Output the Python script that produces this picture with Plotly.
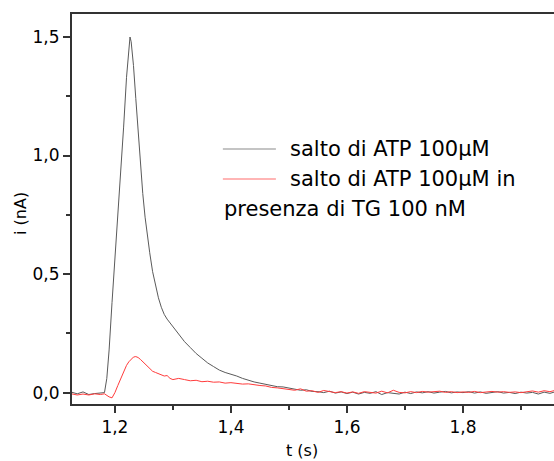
import plotly.graph_objects as go

# ATP 100 uM jump
t_atp = [1.125, 1.135, 1.145, 1.155, 1.165, 1.175, 1.182, 1.186, 1.190, 1.195,
         1.200, 1.205, 1.210, 1.215, 1.220, 1.224, 1.226, 1.228, 1.232, 1.236,
         1.240, 1.244, 1.248, 1.252, 1.256, 1.260, 1.265, 1.270, 1.275, 1.280,
         1.285, 1.290, 1.295, 1.300, 1.31, 1.32, 1.33, 1.34, 1.35, 1.36,
         1.37, 1.38, 1.39, 1.40, 1.41, 1.42, 1.43, 1.44, 1.45, 1.46,
         1.47, 1.48, 1.49, 1.50, 1.51, 1.52, 1.53, 1.54, 1.55, 1.56,
         1.57, 1.58, 1.59, 1.60, 1.61, 1.62, 1.63, 1.64, 1.65, 1.66,
         1.67, 1.68, 1.69, 1.70, 1.71, 1.72, 1.73, 1.74, 1.75, 1.76,
         1.77, 1.78, 1.79, 1.80, 1.81, 1.82, 1.83, 1.84, 1.85, 1.86,
         1.87, 1.88, 1.89, 1.90, 1.91, 1.92, 1.93, 1.94, 1.95, 1.96]
i_atp = [0.002, -0.005, 0.003, -0.008, -0.004, -0.003, 0.0, 0.06, 0.18, 0.38,
         0.56, 0.72, 0.92, 1.12, 1.33, 1.47, 1.50, 1.48, 1.38, 1.24,
         1.10, 0.96, 0.84, 0.74, 0.66, 0.59, 0.51, 0.45, 0.40, 0.36,
         0.33, 0.31, 0.295, 0.28, 0.25, 0.215, 0.19, 0.165, 0.145, 0.125,
         0.11, 0.095, 0.085, 0.078, 0.07, 0.06, 0.052, 0.045, 0.04, 0.035,
         0.03, 0.025, 0.024, 0.02, 0.015, 0.01, 0.012, 0.005, 0.004, 0.0,
         0.006, -0.002, 0.003, -0.004, 0.002, -0.006, 0.001, -0.003, 0.004, -0.008,
         0.0, -0.002, -0.006, 0.002, -0.004, 0.003, -0.001, 0.004, -0.002, 0.002,
         0.005, -0.001, 0.003, 0.0, 0.004, -0.002, 0.003, -0.003, 0.002, 0.004,
         -0.002, 0.001, -0.004, 0.002, -0.002, 0.001, -0.006, 0.002, -0.003, 0.004]

# ATP 100 uM jump with TG 100 nM
t_tg = [1.125, 1.135, 1.145, 1.155, 1.165, 1.175, 1.182, 1.186, 1.190, 1.195,
        1.200, 1.205, 1.210, 1.215, 1.220, 1.224, 1.228, 1.232, 1.236, 1.240,
        1.244, 1.248, 1.252, 1.256, 1.260, 1.265, 1.270, 1.275, 1.280, 1.285,
        1.290, 1.295, 1.300, 1.31, 1.32, 1.33, 1.34, 1.35, 1.36, 1.37,
        1.38, 1.39, 1.40, 1.41, 1.42, 1.43, 1.44, 1.45, 1.46, 1.47,
        1.48, 1.49, 1.50, 1.51, 1.52, 1.53, 1.54, 1.55, 1.56, 1.57,
        1.58, 1.59, 1.60, 1.61, 1.62, 1.63, 1.64, 1.65, 1.66, 1.67,
        1.68, 1.69, 1.70, 1.71, 1.72, 1.73, 1.74, 1.75, 1.76, 1.77,
        1.78, 1.79, 1.80, 1.81, 1.82, 1.83, 1.84, 1.85, 1.86, 1.87,
        1.88, 1.89, 1.90, 1.91, 1.92, 1.93, 1.94, 1.95, 1.96]
i_tg = [-0.005, -0.01, -0.006, -0.01, -0.005, -0.008, -0.005, -0.012, -0.018, -0.022,
        0.0, 0.03, 0.06, 0.09, 0.115, 0.13, 0.14, 0.15, 0.152, 0.148,
        0.14, 0.13, 0.12, 0.11, 0.10, 0.09, 0.085, 0.08, 0.075, 0.07,
        0.072, 0.06, 0.055, 0.06, 0.055, 0.05, 0.052, 0.046, 0.048, 0.044,
        0.045, 0.04, 0.042, 0.038, 0.036, 0.037, 0.032, 0.03, 0.028, 0.022,
        0.02, 0.016, 0.012, 0.01, 0.016, 0.006, 0.008, 0.001, 0.009, 0.003,
        0.0, 0.004, -0.002, 0.003, -0.003, 0.004, 0.0, -0.002, 0.006, -0.001,
        0.010, 0.001, -0.001, 0.004, 0.0, 0.005, 0.002, 0.003, 0.006, 0.001,
        0.004, 0.0, 0.003, 0.001, 0.005, 0.0, 0.002, 0.005, 0.002, 0.004,
        0.001, 0.003, 0.0, 0.004, 0.007, 0.002, 0.008, 0.004, 0.01]

label_atp = "salto di ATP 100µM"
label_tg = "salto di ATP 100µM in"
label_tg2 = "presenza di TG 100 nM"

FONT = "DejaVu Sans"
AX = "#333333"

fig = go.Figure()
fig.add_trace(go.Scatter(x=t_atp, y=i_atp, mode="lines",
                         line=dict(color="#5a5a5a", width=1), name=label_atp))
fig.add_trace(go.Scatter(x=t_tg, y=i_tg, mode="lines",
                         line=dict(color="#ff3b3b", width=1), name=label_tg))

# legend drawn by hand (Origin style, wrapped second entry)
fig.add_shape(type="line", xref="paper", yref="paper", x0=0.313, x1=0.423, y0=0.654, y1=0.654,
              line=dict(color="#b0b0b0", width=1.5))
fig.add_shape(type="line", xref="paper", yref="paper", x0=0.313, x1=0.423, y0=0.577, y1=0.577,
              line=dict(color="#ff9c9c", width=1.5))
for txt, x, y in [(label_atp, 0.448, 0.653), (label_tg, 0.448, 0.578), (label_tg2, 0.311, 0.501)]:
    fig.add_annotation(text=txt, xref="paper", yref="paper", x=x, y=y, xanchor="left",
                       yanchor="middle", showarrow=False, font=dict(family=FONT, size=21, color="black"))

# axis titles
fig.add_annotation(text="t (s)", xref="paper", yref="paper", x=(302 - 72) / 482, y=-0.118,
                   xanchor="center", yanchor="middle", showarrow=False,
                   font=dict(family=FONT, size=16, color="black"))
fig.add_annotation(text="i (nA)", xref="paper", yref="paper", x=-0.108, y=(404 - 213) / 390,
                   xanchor="center", yanchor="middle", textangle=-90, showarrow=False,
                   font=dict(family=FONT, size=16, color="black"))

fig.update_layout(
    width=554, height=461,
    margin=dict(l=72, r=0, t=14, b=57, autoexpand=False),
    paper_bgcolor="white", plot_bgcolor="white",
    showlegend=False,
    separators=", ",
    font=dict(family=FONT, size=17, color="black"),
)
fig.update_xaxes(
    range=[1.126, 1.957], tick0=1.2, dtick=0.2, tickformat=".1f",
    showgrid=False, zeroline=False,
    showline=True, linecolor=AX, linewidth=2, mirror=True,
    ticks="outside", ticklen=7, tickwidth=1.5, tickcolor=AX,
    minor=dict(dtick=0.1, ticks="outside", ticklen=4, tickwidth=1.5, tickcolor=AX, showgrid=False),
)
fig.update_yaxes(
    range=[-0.048, 1.597], tick0=0, dtick=0.5, tickformat=".1f",
    showgrid=False, zeroline=False,
    showline=True, linecolor=AX, linewidth=2,
    ticks="outside", ticklen=7, tickwidth=1.5, tickcolor=AX,
    minor=dict(dtick=0.25, ticks="outside", ticklen=4, tickwidth=1.5, tickcolor=AX, showgrid=False),
)

# drop the page's default body margin so the figure fills the window exactly
fig.write_html("out.html", config={"displayModeBar": False},
               post_script="document.body.style.margin='0';document.body.style.overflow='hidden';")
